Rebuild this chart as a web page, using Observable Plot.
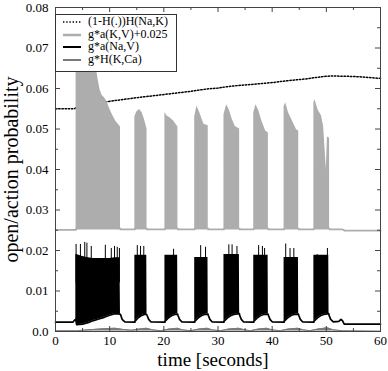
<!DOCTYPE html>
<html><head><meta charset="utf-8">
<script src="https://cdn.jsdelivr.net/npm/d3@7"></script>
<script src="https://cdn.jsdelivr.net/npm/@observablehq/plot@0.6"></script>
<style>
body{margin:0;background:#fff;}
#wrap{position:relative;width:388px;height:371px;}
#legend{position:absolute;left:55px;top:14px;width:122px;height:58px;background:#fff;border:1px solid #333;box-sizing:border-box;font-family:"Liberation Serif",serif;font-size:12px;color:#000;}
.row{position:absolute;left:0;height:12px;width:120px;}
.row svg{position:absolute;left:6px;top:0;}
.row span{position:absolute;left:32px;top:-2px;white-space:nowrap;}
</style></head><body><div id="wrap"></div>
<script>
// ---- tick values / labels ----
const xTicks = [0, 10, 20, 30, 40, 50, 60];
const xTickLabels = ["0", "10", "20", "30", "40", "50", "60"];
const xMinor = [5, 15, 25, 35, 45, 55];
const yTicks = [0, 0.01, 0.02, 0.03, 0.04, 0.05, 0.06, 0.07, 0.08];
const yTickLabels = ["0.0", "0.01", "0.02", "0.03", "0.04", "0.05", "0.06", "0.07", "0.08"];
const yMinor = [0.005, 0.015, 0.025, 0.035, 0.045, 0.055, 0.065, 0.075];
const seriesNames = ["(1-H(.))H(Na,K)", "g*a(K,V)+0.025", "g*a(Na,V)", "g*H(K,Ca)"];

// ---- (1-H(.))H(Na,K) dotted ----
const hnaT = [0, 3.5, 4.0, 8.8, 9.2, 12, 15.4, 18, 21.8, 25, 28, 30, 32, 34.2, 37, 40.3, 42, 44.9, 46.5, 48, 49.8, 51, 54, 56, 58, 60];
const hnaV = [0.055, 0.055, 0.0555, 0.0565, 0.0567, 0.0572, 0.0578, 0.0582, 0.0588, 0.0593, 0.0599, 0.0601, 0.0605, 0.0608, 0.0611, 0.0615, 0.0618, 0.0622, 0.0624, 0.0627, 0.063, 0.0631, 0.063, 0.0629, 0.0627, 0.0625];

// ---- g*a(K,V)+0.025 (light gray bursts: lower / upper envelope) ----
const grT  = [0, 3.8, 3.8, 7.4, 7.6, 7.9, 8.2, 8.6, 9.0, 9.5, 10.0, 10.5, 11.1, 11.6, 12.0, 12.0,
  14.65, 14.65, 15.0, 15.5, 16.0, 16.4, 16.9, 16.9,
  20.2, 20.2, 20.6, 21.2, 21.8, 22.6, 22.6,
  25.7, 25.7, 26.1, 26.5, 26.9, 27.4, 28.2, 28.2,
  31.1, 31.1, 31.6, 32.1, 32.6, 33.2, 34.0, 34.0,
  36.6, 36.6, 37.0, 37.5, 38.1, 38.8, 39.3, 39.3,
  42.2, 42.2, 42.5, 43.0, 43.7, 44.5, 44.9, 44.9,
  47.7, 47.7, 47.9, 48.5, 49.1, 49.5, 50.0, 50.2, 50.6, 50.6,
  53.0, 53.4, 60];
const grLo = [0.0251, 0.0251, 0.0254, 0.0254, 0.0254, 0.0254, 0.0254, 0.0254, 0.0254, 0.0254, 0.0254, 0.0254, 0.0254, 0.0254, 0.0254, 0.0252,
  0.0252, 0.0254, 0.0254, 0.0254, 0.0254, 0.0254, 0.0254, 0.0252,
  0.0252, 0.0254, 0.0254, 0.0254, 0.0254, 0.0254, 0.0252,
  0.0252, 0.0254, 0.0254, 0.0254, 0.0254, 0.0254, 0.0254, 0.0252,
  0.0252, 0.0254, 0.0254, 0.0254, 0.0254, 0.0254, 0.0254, 0.0252,
  0.0252, 0.0254, 0.0254, 0.0254, 0.0254, 0.0254, 0.0254, 0.0252,
  0.0252, 0.0254, 0.0254, 0.0254, 0.0254, 0.0254, 0.0254, 0.0252,
  0.0252, 0.0254, 0.0254, 0.0254, 0.0254, 0.0254, 0.0254, 0.0254, 0.0254, 0.0252,
  0.0252, 0.0249, 0.0249];
const grHi = [0.0251, 0.0251, 0.070, 0.070, 0.0645, 0.062, 0.0598, 0.0583, 0.0578, 0.0568, 0.055, 0.0535, 0.052, 0.0512, 0.0505, 0.0252,
  0.0252, 0.053, 0.0542, 0.0548, 0.054, 0.0525, 0.050, 0.0252,
  0.0252, 0.0541, 0.0532, 0.0527, 0.052, 0.0505, 0.0252,
  0.0252, 0.053, 0.0556, 0.0545, 0.053, 0.0512, 0.0508, 0.0252,
  0.0252, 0.0535, 0.056, 0.0546, 0.0525, 0.0506, 0.050, 0.0252,
  0.0252, 0.054, 0.056, 0.0546, 0.052, 0.0495, 0.049, 0.0252,
  0.0252, 0.0555, 0.0565, 0.0541, 0.0521, 0.0498, 0.0495, 0.0252,
  0.0252, 0.0565, 0.0572, 0.0546, 0.0533, 0.0506, 0.040, 0.048, 0.0477, 0.0252,
  0.0252, 0.0249, 0.0249];

// ---- g*a(Na,V) (black bursts: lower / upper envelope) ----
const naT  = [0, 3.2, 3.5, 3.75, 3.75, 3.9, 5, 6, 7, 8, 9, 10, 11, 11.9, 12.0, 12.3, 12.8, 14.5,
  14.65, 14.65, 15.2, 15.8, 16.4, 16.85, 16.9, 17.2, 17.6, 20.1,
  20.2, 20.2, 20.8, 21.4, 22.0, 22.55, 22.6, 22.9, 23.3, 25.6,
  25.7, 25.7, 26.3, 26.9, 27.5, 28.15, 28.2, 28.5, 28.9, 31.0,
  31.1, 31.1, 31.7, 32.3, 32.9, 33.95, 34.0, 34.3, 34.7, 36.5,
  36.6, 36.6, 37.2, 37.8, 38.4, 39.25, 39.3, 39.6, 40.0, 42.1,
  42.2, 42.2, 42.8, 43.4, 44.0, 44.85, 44.9, 45.2, 45.6, 47.6,
  47.7, 47.7, 48.3, 48.9, 49.5, 50.45, 50.5, 50.8, 51.3, 52.3, 52.7, 53.0, 53.3, 60];
const naLo = [0.0023, 0.0023, 0.0028, 0.003, 0.003, 0.0017, 0.0018, 0.0022, 0.0027, 0.0031, 0.0035, 0.004, 0.0044, 0.0043, 0.0042, 0.003, 0.0024, 0.0023,
  0.0023, 0.0025, 0.0033, 0.0039, 0.0042, 0.0042, 0.004, 0.003, 0.0024, 0.0023,
  0.0023, 0.0025, 0.0033, 0.0039, 0.0042, 0.0043, 0.004, 0.003, 0.0024, 0.0023,
  0.0023, 0.0025, 0.0033, 0.0039, 0.0042, 0.0043, 0.004, 0.003, 0.0024, 0.0023,
  0.0023, 0.0025, 0.0033, 0.0039, 0.0042, 0.0044, 0.004, 0.003, 0.0024, 0.0023,
  0.0023, 0.0025, 0.0033, 0.0039, 0.0042, 0.0043, 0.004, 0.003, 0.0024, 0.0023,
  0.0023, 0.0025, 0.0033, 0.0039, 0.0042, 0.0043, 0.004, 0.003, 0.0024, 0.0023,
  0.0023, 0.0025, 0.0033, 0.0039, 0.0042, 0.0044, 0.004, 0.003, 0.0024, 0.0025, 0.003, 0.0026, 0.0018, 0.0018];
const naHi = [0.0023, 0.0023, 0.0028, 0.003, 0.019, 0.019, 0.0185, 0.0182, 0.018, 0.018, 0.018, 0.018, 0.0182, 0.0182, 0.0042, 0.003, 0.0024, 0.0023,
  0.0023, 0.0188, 0.0188, 0.0188, 0.0188, 0.0188, 0.004, 0.003, 0.0024, 0.0023,
  0.0023, 0.0188, 0.0188, 0.0188, 0.0188, 0.0188, 0.004, 0.003, 0.0024, 0.0023,
  0.0023, 0.0183, 0.0183, 0.0183, 0.0183, 0.0183, 0.004, 0.003, 0.0024, 0.0023,
  0.0023, 0.019, 0.019, 0.019, 0.019, 0.019, 0.004, 0.003, 0.0024, 0.0023,
  0.0023, 0.0188, 0.0188, 0.0188, 0.0188, 0.0188, 0.004, 0.003, 0.0024, 0.0023,
  0.0023, 0.0183, 0.0183, 0.0183, 0.0183, 0.0183, 0.004, 0.003, 0.0024, 0.0023,
  0.0023, 0.0188, 0.0188, 0.0188, 0.0188, 0.0188, 0.004, 0.003, 0.0024, 0.0025, 0.003, 0.0026, 0.0018, 0.0018];
const naSpikeT = [3.8, 4.6, 5.4, 5.8, 6.6, 9.2, 10.3, 10.9, 11.4, 11.8, 15.1, 15.7, 16.3, 21.8, 26.8, 27.7, 32.0, 32.6, 33.5, 37.5, 38.2, 38.6, 42.5, 43.3, 44.0, 48.3, 50.2];
const naSpikeV = [0.0215, 0.0215, 0.022, 0.0218, 0.021, 0.0213, 0.0205, 0.021, 0.0208, 0.0205, 0.0212, 0.021, 0.021, 0.0203, 0.0212, 0.0208, 0.0214, 0.0214, 0.021, 0.0212, 0.021, 0.0205, 0.0216, 0.0205, 0.0205, 0.019, 0.0205];

// ---- g*H(K,Ca) (dark gray, near zero) ----
const hkT = [0, 4, 7, 9, 11, 12.5, 14, 15.5, 16.8, 18, 19.5, 21, 22.5, 23.5, 25, 26.5, 28, 29, 30.5, 32, 33.8, 35, 36, 37.5, 39, 40, 41.5, 43, 44.7, 45.8, 47, 48.5, 50.2, 51.3, 53, 60];
const hkV = [0.0002, 0.0002, 0.0005, 0.0007, 0.0008, 0.0005, 0.0003, 0.0006, 0.0008, 0.0004, 0.0002, 0.0006, 0.0008, 0.0004, 0.0002, 0.0006, 0.0008, 0.0004, 0.0002, 0.0006, 0.0008, 0.0004, 0.0002, 0.0006, 0.0008, 0.0004, 0.0002, 0.0006, 0.0008, 0.0004, 0.0002, 0.0006, 0.0009, 0.0004, 0.0002, 0.0001];

// ---- tables ----
const hnaRows = hnaT.map((t, i) => ({t, v: hnaV[i]}));
const grRows = grT.map((t, i) => ({t, lo: grLo[i], hi: grHi[i]}));
const naRows = naT.map((t, i) => ({t, lo: naLo[i], hi: naHi[i]}));
const spikeRows = naSpikeT.map((t, i) => ({t, v: naSpikeV[i]}));
const hkRows = hkT.map((t, i) => ({t, v: hkV[i]}));

const W = 388, H = 371, mL = 55, mR = 8, mT = 7, mB = 40;
const innerW = W - mL - mR, innerH = H - mT - mB;
const tickCol = "#444", font = "Liberation Serif";
const lightGray = "#adadad", darkGray = "#7a7a7a";

const chart = Plot.plot({
  width: W, height: H,
  marginLeft: mL, marginRight: mR, marginTop: mT, marginBottom: mB,
  style: {fontFamily: font, fontSize: "13px", background: "#fff", color: "#000"},
  x: {domain: [0, 60], label: null},
  y: {domain: [0, 0.08], label: null},
  marks: [
    Plot.line(hnaRows, {x: "t", y: "v", stroke: "#000", strokeWidth: 1.5, strokeDasharray: "1.4,1.8"}),
    Plot.areaY(grRows, {x: "t", y1: "lo", y2: "hi", fill: lightGray}),
    Plot.line(grRows, {x: "t", y: "lo", stroke: lightGray, strokeWidth: 1.8}),
    Plot.areaY(naRows, {x: "t", y1: "lo", y2: "hi", fill: "#000"}),
    Plot.ruleX(spikeRows, {x: "t", y1: 0.012, y2: "v", stroke: "#000", strokeWidth: 1}),
    Plot.line(naRows, {x: "t", y: "lo", stroke: "#000", strokeWidth: 1.7}),
    Plot.areaY(hkRows, {x: "t", y1: 0.0001, y2: "v", fill: darkGray}),
    Plot.line(hkRows, {x: "t", y: "v", stroke: darkGray, strokeWidth: 1}),
    // inward ticks
    Plot.ruleX(xTicks, {x: d => d, insetTop: innerH - 5, stroke: tickCol}),
    Plot.ruleX(xTicks, {x: d => d, insetBottom: innerH - 5, stroke: tickCol}),
    Plot.ruleX(xMinor, {x: d => d, insetTop: innerH - 3, stroke: tickCol}),
    Plot.ruleX(xMinor, {x: d => d, insetBottom: innerH - 3, stroke: tickCol}),
    Plot.ruleY(yTicks, {y: d => d, insetRight: innerW - 5, stroke: tickCol}),
    Plot.ruleY(yTicks, {y: d => d, insetLeft: innerW - 5, stroke: tickCol}),
    Plot.ruleY(yMinor, {y: d => d, insetRight: innerW - 3, stroke: tickCol}),
    Plot.ruleY(yMinor, {y: d => d, insetLeft: innerW - 3, stroke: tickCol}),
    Plot.frame({stroke: tickCol, strokeWidth: 1}),
    Plot.axisX(xTicks, {tickSize: 0, tickPadding: 4, fontSize: 13, tickFormat: d => xTickLabels[xTicks.indexOf(d)]}),
    Plot.axisY(yTicks, {tickSize: 0, tickPadding: 7, fontSize: 13, tickFormat: d => yTickLabels[yTicks.indexOf(d)]}),
    Plot.text(["time [seconds]"], {frameAnchor: "bottom", dy: 28, dx: -5, fontSize: 19, textAnchor: "middle", lineAnchor: "middle"}),
    Plot.text(["open/action probability"], {frameAnchor: "left", dx: -44, rotate: -90, fontSize: 20, textAnchor: "middle", lineAnchor: "middle"})
  ]
});

const wrap = document.getElementById("wrap");
wrap.appendChild(chart);

// legend overlay (inside plot, top-left)
const legend = document.createElement("div");
legend.id = "legend";
const samples = [
  {stroke: "#000", width: 1.5, dash: "1.4,1.8"},
  {stroke: lightGray, width: 2.5, dash: null},
  {stroke: "#000", width: 2, dash: null},
  {stroke: darkGray, width: 2, dash: null}
];
const rowTop = [1, 13.5, 26, 38.5];
seriesNames.forEach((name, i) => {
  const row = document.createElement("div");
  row.className = "row";
  row.style.top = rowTop[i] + "px";
  const s = samples[i];
  row.innerHTML = `<svg width="20" height="12"><line x1="1" x2="19" y1="6" y2="6" stroke="${s.stroke}" stroke-width="${s.width}" ${s.dash ? `stroke-dasharray="${s.dash}"` : ""}/></svg><span>${name}</span>`;
  legend.appendChild(row);
});
wrap.appendChild(legend);
</script>
</body></html>
